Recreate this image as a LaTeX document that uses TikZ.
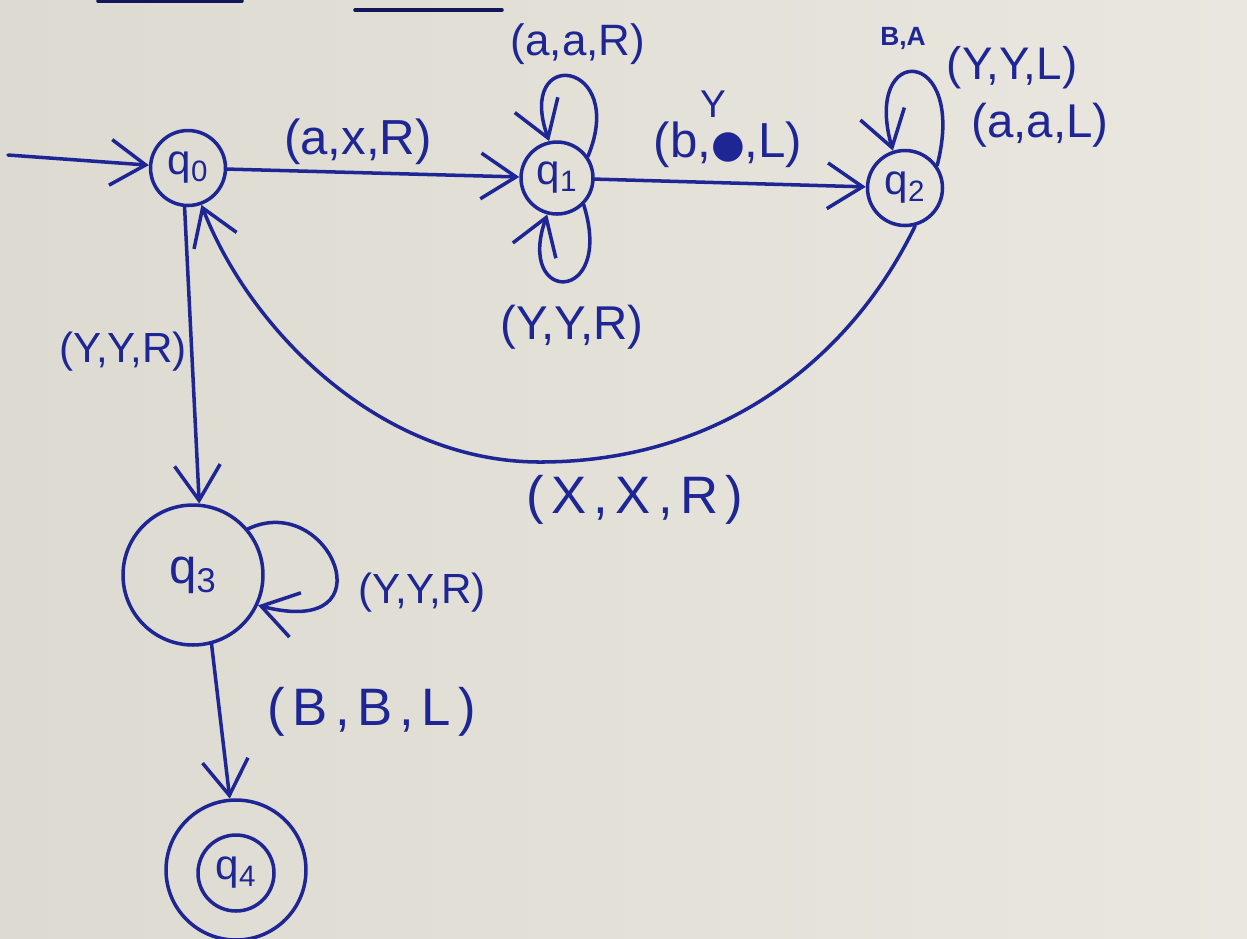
\documentclass[tikz,border=0pt]{standalone}
\usepackage{fontspec}
\setmainfont{Liberation Sans}
\newfontfamily\symfont{DejaVu Sans}
\usetikzlibrary{arrows.meta}
\definecolor{ink}{RGB}{30,38,150}
\definecolor{paperA}{RGB}{221,218,209}
\definecolor{paperB}{RGB}{234,231,224}
\tikzset{
  px/.style={x=0.02cm,y=-0.02cm},
  pen/.style={draw=ink, line width=2pt, line cap=round, line join=round},
  arr/.style={pen, -{Straight Barb[length=20pt,width=26pt,line width=2pt]}},
  state/.style={circle, pen, inner sep=0pt, text=ink, font=\fontsize{24}{26}\selectfont},
  lab/.style={text=ink, inner sep=1pt, font=\fontsize{26}{28}\selectfont},
  wide/.style={text=ink, inner sep=1pt, font=\fontsize{30}{32}\selectfont\addfontfeature{LetterSpace=14}},
}
\begin{document}
\begin{tikzpicture}[px]
  % paper
  \shade[left color=paperA, right color=paperB] (0,0) rectangle (1247,938);
  \useasboundingbox (0,0) rectangle (1247,938);

  % underlines at the top of the page
  \draw[pen, draw=ink!60!black] (98,1) -- (242,1);
  \draw[pen, draw=ink!60!black] (355,10) -- (502,10);

  % states
  \node[state, minimum size=1.50cm] (q0) at (188,168) {q\textsubscript{0}};
  \node[state, minimum size=1.44cm] (q1) at (557,178) {q\textsubscript{1}};
  \node[state, minimum size=1.50cm] (q2) at (905,188) {q\textsubscript{2}};
  \node[state, minimum size=2.80cm, font=\fontsize{28}{30}\selectfont] (q3) at (193,575) {q\textsubscript{3}};
  \node[state, minimum size=2.80cm] (q4o) at (236,870) {};
  \node[state, minimum size=1.52cm] (q4) at (236,873) {q\textsubscript{4}};

  % start arrow
  \coordinate (start) at (8,155);
  \draw[arr] (start) -- (q0);

  % transitions
  \draw[arr] (q0) -- (q1);
  \node[lab, font=\fontsize{28}{30}\selectfont] (l01) at (358,142) {(a,x,R)};

  \draw[arr] (q1.35) .. controls (628,60) and (515,45) .. (q1.102);
  \node[lab, font=\fontsize{25}{27}\selectfont] (l11a) at (578,44) {(a,a,R)};

  \draw[arr] (q1.-45) .. controls (615,305) and (515,305) .. (q1.-105);
  \node[lab, font=\fontsize{27}{29}\selectfont] (l11b) at (572,327) {(Y,Y,R)};

  \draw[arr] (q1) -- (q2);
  \node[lab, font=\fontsize{28}{30}\selectfont] (l12) at (728,145) {(b,{\symfont\fontsize{22}{24}\selectfont ●},L)};
  \node[lab, font=\fontsize{22}{24}\selectfont] (l12y) at (713,104) {Y};

  \draw[arr] (q2.35) .. controls (968,45) and (862,42) .. (q2.108);
  \node[lab, font=\bfseries\fontsize{15}{16}\selectfont] (l22x) at (903,38) {B,A};
  \node[lab, font=\fontsize{26}{28}\selectfont] (l22a) at (1012,68) {(Y,Y,L)};
  \node[lab, font=\fontsize{27}{29}\selectfont] (l22b) at (1040,125) {(a,a,L)};

  \draw[arr] (q2.-75) .. controls (850,360) and (720,462) .. (540,462)
                      .. controls (380,462) and (250,330) .. (q0.-70);
  \node[wide] (l20) at (635,500) {(X,X,R)};

  \draw[arr] (q0.-95) -- (q3.85);
  \node[lab, font=\fontsize{24}{26}\selectfont] (l03) at (123,352) {(Y,Y,R)};

  \draw[arr] (q3.40) .. controls (330,490) and (392,640) .. (q3.-25);
  \node[lab, font=\fontsize{24}{26}\selectfont] (l33) at (422,593) {(Y,Y,R)};

  \draw[arr] (q3.-75) -- (q4o.95);
  \node[wide] (l34) at (372,712) {(B,B,L)};
\end{tikzpicture}
\end{document}
